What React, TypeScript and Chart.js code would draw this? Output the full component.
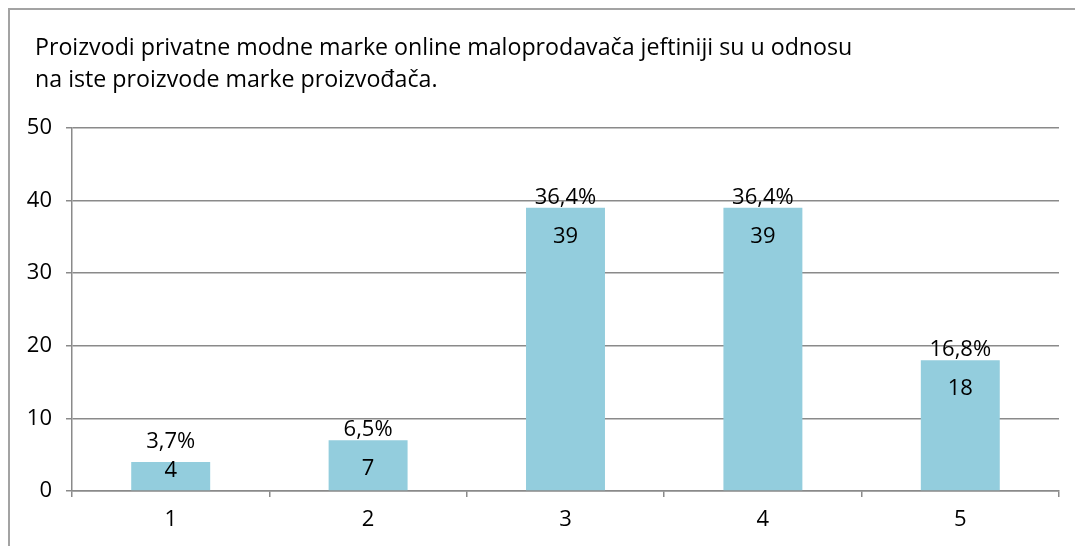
import React, { useEffect, useRef } from "react";
import { Chart, registerables } from "chart.js";

Chart.register(...registerables);

const titleLines = [
  "Proizvodi privatne modne marke online maloprodavača jeftiniji su u odnosu",
  "na iste proizvode marke proizvođača.",
];
const categories = ["1", "2", "3", "4", "5"];
const counts = [4, 7, 39, 39, 18];
const percents = [3.7, 6.5, 36.4, 36.4, 16.8];
const yTicks = [0, 10, 20, 30, 40, 50];

const FONT = "'Open Sans', sans-serif";
const GRID = "#8a8a8a";

export default function App() {
  const ref = useRef<HTMLCanvasElement | null>(null);

  useEffect(() => {
    if (!ref.current) return;
    const labelPlugin = {
      id: "labels",
      afterDatasetsDraw(chart: any) {
        const ctx = chart.ctx;
        ctx.save();
        ctx.fillStyle = "#000";
        ctx.font = `23.2px ${FONT}`;
        ctx.textAlign = "left";
        ctx.textBaseline = "alphabetic";
        ctx.fillText(titleLines[0], 25, 45);
        ctx.fillText(titleLines[1], 25, 77);
        const meta = chart.getDatasetMeta(0);
        ctx.font = `22px ${FONT}`;
        ctx.textAlign = "center";
        meta.data.forEach((bar: any, i: number) => {
          const top = bar.y;
          const bottom = bar.base;
          const c = Math.min(top + 27, bottom - 21);
          const pctBase = Math.min(top - 4, c - 21);
          ctx.fillText(percents[i].toFixed(1).replace(".", ",") + "%", bar.x, pctBase);
          ctx.fillText(String(counts[i]), bar.x, c + 8);
        });
        ctx.restore();
      },
    };

    const chart = new Chart(ref.current, {
      type: "bar",
      data: {
        labels: categories,
        datasets: [
          {
            data: counts,
            backgroundColor: "#93CDDD",
            borderWidth: 0,
            barPercentage: 0.4,
            categoryPercentage: 1,
          },
        ],
      },
      options: {
        animation: false,
        responsive: true,
        maintainAspectRatio: false,
        layout: { padding: { left: 0, right: 16, top: 118, bottom: 0 } },
        plugins: {
          legend: { display: false },
          title: { display: false },
          tooltip: { enabled: false },
        },
        scales: {
          x: {
            afterFit: (s: any) => {
              s.height = 55;
            },
            grid: {
              display: true,
              drawOnChartArea: false,
              drawTicks: true,
              tickLength: 6,
              color: GRID,
              lineWidth: 1.5,
              offset: true,
            },
            border: { display: true, color: GRID, width: 1.5 },
            ticks: {
              color: "#000",
              font: { family: FONT, size: 22 },
              padding: 10,
              maxRotation: 0,
            },
          },
          y: {
            min: 0,
            max: 50,
            afterFit: (s: any) => {
              s.width = 62;
            },
            afterBuildTicks: (s: any) => {
              s.ticks = yTicks.map((v) => ({ value: v }));
            },
            grid: {
              color: GRID,
              lineWidth: 1.5,
              tickLength: 6,
              drawTicks: true,
            },
            border: { display: true, color: GRID, width: 1.5 },
            ticks: {
              color: "#000",
              font: { family: FONT, size: 22 },
              padding: 14,
            },
          },
        },
      },
      plugins: [labelPlugin],
    });
    return () => chart.destroy();
  }, []);

  return (
    <div
      style={{
        position: "absolute",
        top: 8,
        left: 8,
        width: 1067,
        height: 538,
        boxSizing: "border-box",
        borderTop: "2px solid #a3a3a3",
        borderLeft: "2px solid #a3a3a3",
        background: "#fff",
      }}
    >
      <div style={{ position: "relative", width: 1065, height: 536 }}>
        <canvas ref={ref} />
      </div>
    </div>
  );
}
